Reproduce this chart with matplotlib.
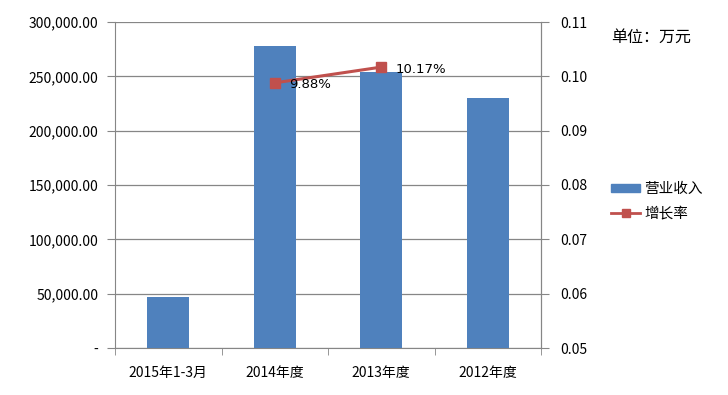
import matplotlib
matplotlib.use("Agg")
import matplotlib.pyplot as plt
from matplotlib.ticker import FuncFormatter, FixedLocator
import numpy as np

plt.rcParams['font.family'] = ['Noto Sans CJK SC', 'DejaVu Sans']

categories = ['2015年1-3月', '2014年度', '2013年度', '2012年度']
revenue = [46500, 278000, 254000, 230000]
growth_cats = ['2014年度', '2013年度']
growth = [0.0988, 0.1017]
growth_labels = ['9.88%', '10.17%']

bar_color = '#4F81BD'
line_color = '#C0504D'
axis_gray = '#868686'

fig = plt.figure(figsize=(7.28, 3.95), dpi=100)
ax = fig.add_axes([115/728, 1-348/395, (541-115)/728, (348-22)/395])
x = np.arange(len(categories))
ax.bar(x, revenue, width=0.39, color=bar_color, zorder=3)
ax.set_xlim(-0.5, len(categories)-0.5)
ax.set_ylim(0, 300000)
ax.set_yticks(np.arange(0, 300001, 50000))
ax.yaxis.set_major_formatter(FuncFormatter(lambda v, p: '-' if v == 0 else f'{v:,.2f}'))
ax.grid(axis='y', color=axis_gray, linewidth=0.9, zorder=0)
ax.set_xticks(x)
ax.set_xticklabels(categories)
ax.xaxis.set_minor_locator(FixedLocator(np.arange(-0.5, len(categories), 1.0)))
ax.tick_params(axis='x', which='major', length=0, pad=13, labelsize=10)
ax.tick_params(axis='x', which='minor', length=5, color=axis_gray, direction='out')
ax.tick_params(axis='y', length=6, color=axis_gray, labelsize=10, pad=6)
for s in ['top']:
    ax.spines[s].set_visible(False)
for s in ['left', 'bottom', 'right']:
    ax.spines[s].set_color(axis_gray)

ax2 = ax.twinx()
gx = [categories.index(c) for c in growth_cats]
ax2.plot(gx, growth, color=line_color, linewidth=2.2, marker='s', markersize=7, zorder=5)
ax2.set_ylim(0.05, 0.11)
ax2.set_yticks(np.arange(0.05, 0.1101, 0.01))
ax2.yaxis.set_major_formatter(FuncFormatter(lambda v, p: f'{v:.2f}'))
ax2.tick_params(axis='y', length=6, color=axis_gray, labelsize=10, pad=8)
ax2.spines['top'].set_visible(False)
ax2.spines['right'].set_color(axis_gray)
ax2.spines['left'].set_visible(False)
ax2.spines['bottom'].set_visible(False)
offsets = [(10, -1.5), (10, -1.5)]
for xi, yi, lab, off in zip(gx, growth, growth_labels, offsets):
    ax2.annotate(lab, (xi, yi), xytext=off, textcoords='offset points',
                 fontsize=9.5, ha='left', va='center', family=['DejaVu Sans'], zorder=6)

fig.text(611/728, 1-37/395, '单位：万元', fontsize=11.5, va='center', ha='left')

from matplotlib.patches import Patch
from matplotlib.lines import Line2D
handles = [Patch(color=bar_color), Line2D([0], [0], color=line_color, linewidth=2, marker='s', markersize=6)]
leg = fig.legend(handles, ['营业收入', '增长率'], loc='upper left',
                 bbox_to_anchor=(598/728, 1-169/395), frameon=False, fontsize=10.5,
                 handlelength=2.0, handleheight=0.5, labelspacing=0.7, handletextpad=0.25)

fig.savefig('out.png', dpi=100)
